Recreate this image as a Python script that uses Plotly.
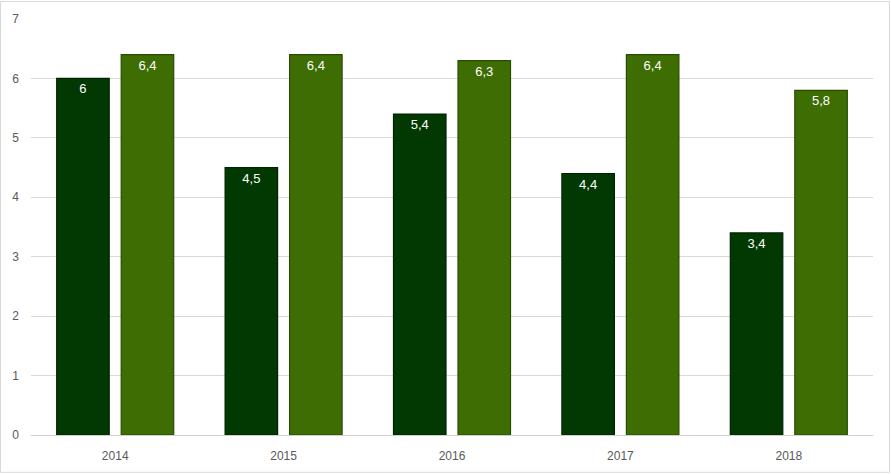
import plotly.graph_objects as go

years = ["2014", "2015", "2016", "2017", "2018"]
series_a = [6.0, 4.5, 5.4, 4.4, 3.4]
series_b = [6.4, 6.4, 6.3, 6.4, 5.8]
y_ticks = [0, 1, 2, 3, 4, 5, 6, 7]

def fmt(v):
    s = ("%g" % v)
    return s.replace(".", ",")

W, H = 891, 475
ml, mr, mt, mb = 31, 18, 18, 39
pw, ph = W - ml - mr, H - mt - mb

fig = go.Figure()
fig.add_trace(go.Bar(
    x=years, y=series_a, text=[fmt(v) for v in series_a],
    textposition="inside", insidetextanchor="end",
    textfont=dict(color="white", size=13, family="Liberation Sans"),
    marker=dict(color="#023802", line=dict(color="#012201", width=1.2)),
    textangle=0, cliponaxis=False,
))
fig.add_trace(go.Bar(
    x=years, y=series_b, text=[fmt(v) for v in series_b],
    textposition="inside", insidetextanchor="end",
    textfont=dict(color="white", size=13, family="Liberation Sans"),
    marker=dict(color="#3e6e03", line=dict(color="#2a4c02", width=1.2)),
    textangle=0, cliponaxis=False,
))

fig.update_layout(
    width=W, height=H,
    margin=dict(l=ml, r=mr, t=mt, b=mb),
    paper_bgcolor="white", plot_bgcolor="white",
    barmode="group", bargap=0.234, bargroupgap=0.186,
    showlegend=False,
    font=dict(family="Liberation Sans", size=12, color="#595959"),
    xaxis=dict(showgrid=False, showline=True, linecolor="#d0d0d0", linewidth=1,
               ticks="", tickfont=dict(size=12, color="#595959"), ticklabelstandoff=10),
    yaxis=dict(range=[0, 7], tickvals=y_ticks, showgrid=True, gridcolor="#d9d9d9",
               gridwidth=1, zeroline=False, showline=False, ticks="",
               tickfont=dict(size=12, color="#595959"), ticklabelstandoff=11),
    shapes=[dict(type="rect", xref="paper", yref="paper",
                 x0=-(ml - 0.5) / pw, x1=1 + (mr - 1.5) / pw,
                 y0=-(mb - 1.5) / ph, y1=1 + (mt - 0.5) / ph,
                 line=dict(color="#d9d9d9", width=1), layer="below")],
)

fig.write_html("out.html", config={"displayModeBar": False},
               post_script="document.body.style.margin='0';document.body.style.overflow='hidden';")
